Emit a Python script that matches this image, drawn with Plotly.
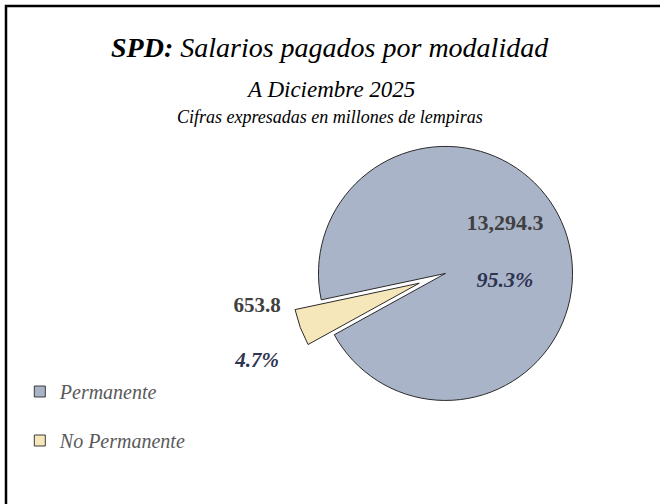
import plotly.graph_objects as go

categories = ["Permanente", "No Permanente"]
values = [13294.3, 653.8]
colors = ["#A9B4C9", "#F6E7BB"]

FONT = "Liberation Serif"

fig = go.Figure()
fig.add_trace(go.Pie(
    labels=categories,
    values=values,
    sort=False,
    direction="clockwise",
    rotation=258,
    pull=[0, 0.22],
    marker=dict(colors=colors, line=dict(color="#2b2b2b", width=1)),
    textposition=["inside", "outside"],
    texttemplate=[
        "<b>%{value:,.1f}</b><br><br><b><i><span style='color:#2E3550'>%{percent:.1%}</span></i></b>",
        "<b>%{value:,.1f}</b><br><br><b><i><span style='color:#2E3550'>%{percent:.1%}</span></i></b>",
    ],
    insidetextorientation="horizontal",
    insidetextfont=dict(family=FONT, size=22, color="#404040"),
    outsidetextfont=dict(family=FONT, size=21, color="#404040"),
    domain=dict(x=[0.36, 0.99], y=[0.15, 0.765]),
    showlegend=False,
    hoverinfo="label+value+percent",
))

# legend entries (one per category, same colours as the slices)
for name, col in zip(categories, colors):
    fig.add_trace(go.Scatter(
        x=[None], y=[None], mode="markers", name=name, legendgroup=name,
        marker=dict(symbol="square", size=11, color=col, line=dict(color="#3a3a3a", width=1)),
        hoverinfo="skip",
    ))

fig.update_layout(
    width=660, height=504,
    autosize=False,
    margin=dict(l=0, r=0, t=0, b=0, pad=0, autoexpand=False),
    paper_bgcolor="white",
    plot_bgcolor="white",
    xaxis=dict(visible=False),
    yaxis=dict(visible=False),
    showlegend=True,
    legend=dict(
        x=0.03, y=1-372/504, xanchor="left", yanchor="top",
        font=dict(family=FONT, size=20, color="#595959", style="italic"),
        bgcolor="rgba(0,0,0,0)",
        tracegroupgap=20,
        traceorder="grouped",
    ),
    shapes=[dict(
        type="rect", xref="paper", yref="paper",
        x0=6/660, x1=2.0, y0=-1.0, y1=1-6/504,
        line=dict(color="black", width=2.5), fillcolor="rgba(0,0,0,0)",
    )],
    annotations=[
        dict(text="<b>SPD:</b> Salarios pagados por modalidad", x=0.5, y=1-47/504,
             xref="paper", yref="paper", showarrow=False, xanchor="center", yanchor="middle",
             font=dict(family=FONT, size=28, color="black", style="italic")),
        dict(text="A Diciembre 2025", x=0.5, y=1-89/504,
             xref="paper", yref="paper", showarrow=False, xanchor="center", yanchor="middle",
             font=dict(family=FONT, size=23, color="black", style="italic")),
        dict(text="Cifras expresadas en millones de lempiras", x=0.5, y=1-117/504,
             xref="paper", yref="paper", showarrow=False, xanchor="center", yanchor="middle",
             font=dict(family=FONT, size=18, color="black", style="italic")),
    ],
)

fig.write_html("out.html", config={"displayModeBar": False},
               post_script="document.body.style.margin='0px';")
